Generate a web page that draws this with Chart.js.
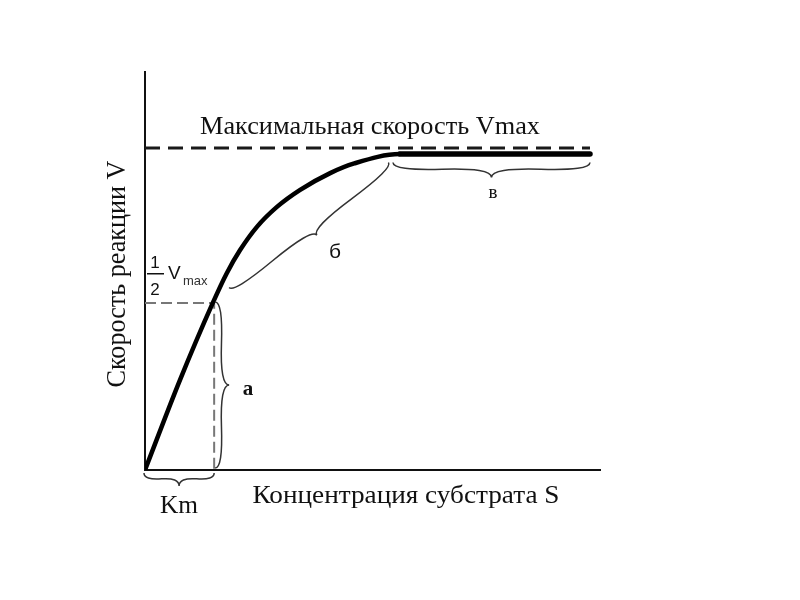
<!DOCTYPE html>
<html><head><meta charset="utf-8">
<script src="https://cdn.jsdelivr.net/npm/chart.js@4/dist/chart.umd.min.js"></script>
<style>html,body{margin:0;padding:0;background:#fff}#wrap{width:800px;height:600px}</style>
</head><body><div id="wrap"><canvas id="c" width="800" height="600"></canvas></div>
<script>
// ---- data ----
const substrate = [0, 0.77, 1.49, 1.80, 2.09, 2.46, 2.90, 3.41, 4.07, 4.60, 5.60, 9.78];
const velocity  = [0, 0.28, 0.519, 0.612, 0.683, 0.755, 0.817, 0.870, 0.922, 0.952, 0.981, 0.981];
const vmax = 1.0;
const halfVmax = 0.519;
const km = 1.52;
const sEnd = 9.78;
const titleText = 'Максимальная скорость Vmax';
const xTitle = 'Концентрация субстрата S';
const yTitle = 'Скорость реакции V';
const braceLabels = ['Km', 'а', 'б', 'в'];

const curve = substrate.map((s, i) => ({x: s, y: velocity[i]}));

function brace(ctx, x1, y1, x2, y2, w, q) {
  let dx = x1 - x2, dy = y1 - y2;
  const len = Math.hypot(dx, dy); dx /= len; dy /= len;
  const qx1 = x1 + q*w*dy, qy1 = y1 - q*w*dx;
  const qx2 = (x1 - .25*len*dx) + (1-q)*w*dy, qy2 = (y1 - .25*len*dy) - (1-q)*w*dx;
  const tx1 = (x1 - .5*len*dx) + w*dy, ty1 = (y1 - .5*len*dy) - w*dx;
  const qx3 = x2 + q*w*dy, qy3 = y2 - q*w*dx;
  const qx4 = (x1 - .75*len*dx) + (1-q)*w*dy, qy4 = (y1 - .75*len*dy) - (1-q)*w*dx;
  ctx.beginPath();
  ctx.moveTo(x1, y1); ctx.quadraticCurveTo(qx1, qy1, qx2, qy2);
  ctx.quadraticCurveTo(2*qx2 - qx1, 2*qy2 - qy1, tx1, ty1);
  ctx.moveTo(x2, y2); ctx.quadraticCurveTo(qx3, qy3, qx4, qy4);
  ctx.quadraticCurveTo(2*qx4 - qx3, 2*qy4 - qy3, tx1, ty1);
  ctx.stroke();
}

function fitText(ctx, text, x, y, width, font, rot) {
  ctx.save();
  ctx.font = font;
  const m = ctx.measureText(text).width;
  ctx.translate(x, y);
  if (rot) ctx.rotate(rot);
  ctx.scale(width / m, 1);
  ctx.textAlign = 'center';
  ctx.textBaseline = 'alphabetic';
  ctx.fillText(text, 0, 0);
  ctx.restore();
}

const overlay = {
  id: 'overlay',
  afterDatasetsDraw(chart) {
    const ctx = chart.ctx, xs = chart.scales.x, ys = chart.scales.y;
    const X = v => xs.getPixelForValue(v), Y = v => ys.getPixelForValue(v);
    ctx.save();
    ctx.fillStyle = '#111';
    const serif = '"Liberation Serif", "DejaVu Serif", serif';
    fitText(ctx, titleText, 370, 134, 340, '26px ' + serif);
    fitText(ctx, xTitle, 406, 503, 307, '25px ' + serif);
    fitText(ctx, yTitle, 125, 274, 227, '28px ' + serif, -Math.PI/2);
    fitText(ctx, braceLabels[0], 179, 513, 38, '25px ' + serif);
    ctx.font = 'bold 21px ' + serif; ctx.textAlign = 'center'; ctx.textBaseline = 'middle';
    ctx.fillText(braceLabels[1], 248, 390);
    ctx.font = '21px "Liberation Sans", Arial, sans-serif';
    ctx.fillText(braceLabels[2], 335, 252);
    ctx.font = '19px ' + serif;
    ctx.fillText(braceLabels[3], 493, 193);
    // 1/2 Vmax
    ctx.font = '17px "Liberation Sans", Arial, sans-serif';
    ctx.fillText('1', 155, 263);
    ctx.fillText('2', 155, 290);
    ctx.fillRect(147, 273, 17, 1.5);
    ctx.font = '19px "Liberation Sans", Arial, sans-serif';
    ctx.textAlign = 'left';
    ctx.fillText('V', 168, 274);
    ctx.font = '13px "Liberation Sans", Arial, sans-serif';
    ctx.fillStyle = '#333';
    ctx.fillText('max', 183, 281);
    // braces
    ctx.strokeStyle = '#333'; ctx.lineWidth = 1.5;
    brace(ctx, X(0) - 1, Y(0) + 3, X(km), Y(0) + 3, 13, 0.55);
    brace(ctx, X(km) + 1, Y(halfVmax) - 1, X(km) + 1, Y(0) - 2, -14, 0.55);
    brace(ctx, X(1.85), Y(0.567), X(5.35), Y(0.955), 13, 0.55);
    brace(ctx, X(5.45), Y(0.955), X(sEnd), Y(0.955), 15, 0.55);
    ctx.restore();
  }
};

new Chart(document.getElementById('c'), {
  type: 'line',
  data: {
    datasets: [
      { data: curve, borderColor: '#000', borderWidth: 4.5, pointRadius: 0,
        cubicInterpolationMode: 'monotone', fill: false, borderCapStyle: 'round',
        segment: { borderWidth: c => c.p0DataIndex >= substrate.length - 2 ? 5.5 : 4.5 } },
      { data: [{x: 0, y: vmax}, {x: sEnd, y: vmax}], borderColor: '#1a1a1a', borderWidth: 3,
        borderDash: [15, 8], pointRadius: 0, fill: false },
      { data: [{x: 0, y: halfVmax}, {x: km, y: halfVmax}, {x: km, y: 0}], borderColor: '#777',
        borderWidth: 2, borderDash: [11, 5], pointRadius: 0, fill: false, tension: 0 }
    ]
  },
  options: {
    responsive: false, animation: false,
    layout: { padding: { left: 145, right: 200, top: 72, bottom: 130 } },
    plugins: { legend: { display: false }, tooltip: { enabled: false } },
    scales: {
      x: { type: 'linear', min: 0, max: 10,
        ticks: { display: false }, grid: { display: false, drawTicks: false },
        border: { display: true, color: '#111', width: 2 } },
      y: { type: 'linear', min: 0, max: 1.236,
        ticks: { display: false }, grid: { display: false, drawTicks: false },
        border: { display: true, color: '#111', width: 2 } }
    }
  },
  plugins: [overlay]
});
</script></body></html>
